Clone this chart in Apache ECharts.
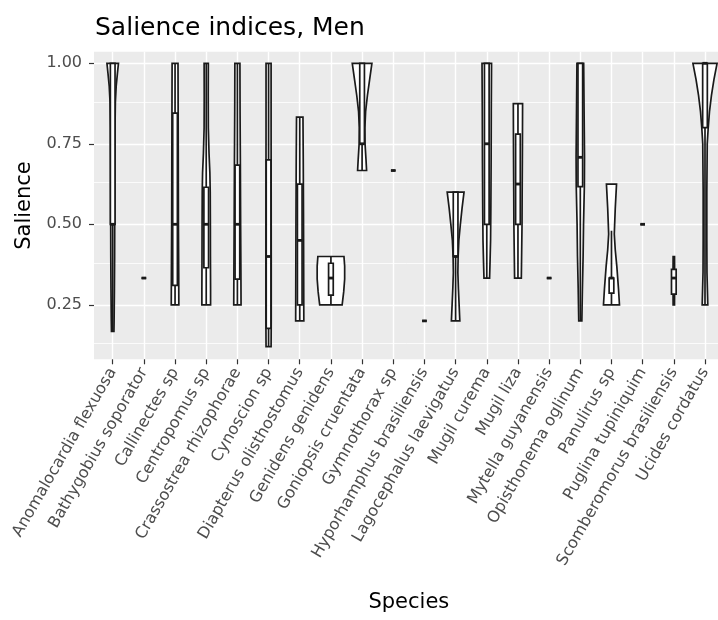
<!DOCTYPE html>
<html>
<head>
<meta charset="utf-8">
<script src="https://cdn.jsdelivr.net/npm/echarts@6/dist/echarts.min.js"></script>
<style>
  html, body { margin: 0; padding: 0; background: #ffffff; }
  #chart { width: 718px; height: 620px; }
</style>
</head>
<body>
<div id="chart"></div>
<script>
// ---------------- data ----------------
const species = [
  'Anomalocardia flexuosa', 'Bathygobius soporator', 'Callinectes sp', 'Centropomus sp',
  'Crassostrea rhizophorae', 'Cynoscion sp', 'Diapterus olisthostomus', 'Genidens genidens',
  'Goniopsis cruentata', 'Gymnothorax sp', 'Hyporhamphus brasiliensis', 'Lagocephalus laevigatus',
  'Mugil curema', 'Mugil liza', 'Mytella guyanensis', 'Opisthonema oglinum',
  'Panulirus sp', 'Puglina tupiniquim', 'Scomberomorus brasiliensis', 'Ucides cordatus'
];

// boxplot statistics (lower whisker, Q1, median, Q3, upper whisker)
const boxMin    = [0.167, 0.333, 0.25, 0.25, 0.25, 0.12, 0.20, 0.25, 0.667, 0.667, 0.20, 0.20, 0.333, 0.333, 0.333, 0.20, 0.25, 0.50, 0.25, 0.25];
const boxQ1     = [0.50, 0.333, 0.31, 0.365, 0.33, 0.177, 0.25, 0.28, 0.75, 0.667, 0.20, 0.40, 0.50, 0.50, 0.333, 0.617, 0.286, 0.50, 0.283, 0.80];
const boxMedian = [0.50, 0.333, 0.50, 0.50, 0.50, 0.40, 0.45, 0.333, 0.75, 0.667, 0.20, 0.40, 0.75, 0.625, 0.333, 0.708, 0.333, 0.50, 0.333, 1.00];
const boxQ3     = [1.00, 0.333, 0.845, 0.615, 0.684, 0.70, 0.625, 0.379, 1.00, 0.667, 0.20, 0.60, 1.00, 0.78, 0.333, 1.00, 0.333, 0.50, 0.36, 1.00];
const boxMax    = [1.00, 0.333, 1.00, 1.00, 1.00, 1.00, 0.833, 0.40, 1.00, 0.667, 0.20, 0.60, 1.00, 0.875, 0.333, 1.00, 0.48, 0.50, 0.40, 1.00];

// violin density profiles: [salience, relative density]
const violinAnomalocardia = [[1.0,0.41],[0.97,0.34],[0.93,0.25],[0.88,0.19],[0.8,0.165],[0.7,0.155],[0.6,0.148],[0.5,0.143],[0.4,0.137],[0.3,0.122],[0.2,0.10],[0.167,0.088]];
const violinBathygobius = [];
const violinCallinectes = [[1.0,0.21],[0.85,0.22],[0.7,0.23],[0.5,0.24],[0.35,0.26],[0.25,0.27]];
const violinCentropomus = [[1.0,0.15],[0.9,0.143],[0.8,0.15],[0.72,0.20],[0.66,0.26],[0.6,0.285],[0.5,0.295],[0.4,0.30],[0.3,0.31],[0.25,0.31]];
const violinCrassostrea = [[1.0,0.18],[0.85,0.19],[0.7,0.21],[0.5,0.23],[0.35,0.25],[0.25,0.26]];
const violinCynoscion = [[1.0,0.18],[0.8,0.18],[0.6,0.185],[0.4,0.19],[0.2,0.19],[0.12,0.18]];
const violinDiapterus = [[0.833,0.23],[0.7,0.25],[0.5,0.27],[0.35,0.28],[0.2,0.29]];
const violinGenidens = [[0.4,0.93],[0.37,0.98],[0.33,0.98],[0.29,0.91],[0.25,0.80]];
const violinGoniopsis = [[1.0,0.70],[0.95,0.54],[0.9,0.38],[0.85,0.25],[0.8,0.20],[0.75,0.21],[0.7,0.28],[0.667,0.32]];
const violinGymnothorax = [];
const violinHyporhamphus = [];
const violinLagocephalus = [[0.6,0.60],[0.55,0.46],[0.5,0.34],[0.45,0.23],[0.4,0.18],[0.35,0.16],[0.3,0.20],[0.25,0.25],[0.2,0.30]];
const violinMugilCurema = [[1.0,0.34],[0.85,0.32],[0.7,0.31],[0.55,0.29],[0.45,0.27],[0.38,0.23],[0.333,0.20]];
const violinMugilLiza = [[0.875,0.33],[0.75,0.32],[0.6,0.30],[0.5,0.29],[0.4,0.26],[0.333,0.24]];
const violinMytella = [];
const violinOpisthonema = [[1.0,0.24],[0.85,0.27],[0.71,0.30],[0.62,0.29],[0.5,0.23],[0.4,0.20],[0.3,0.15],[0.2,0.11]];
const violinPanulirus = [[0.625,0.36],[0.55,0.27],[0.47,0.20],[0.42,0.27],[0.37,0.38],[0.3,0.50],[0.25,0.57]];
const violinPuglina = [];
const violinScomberomorus = [[0.4,0.05],[0.33,0.06],[0.25,0.05]];
const violinUcides = [[1.0,0.86],[0.95,0.64],[0.9,0.46],[0.85,0.32],[0.8,0.23],[0.75,0.16],[0.6,0.13],[0.45,0.13],[0.35,0.14],[0.25,0.20]];

const violins = [
  violinAnomalocardia, violinBathygobius, violinCallinectes, violinCentropomus,
  violinCrassostrea, violinCynoscion, violinDiapterus, violinGenidens,
  violinGoniopsis, violinGymnothorax, violinHyporhamphus, violinLagocephalus,
  violinMugilCurema, violinMugilLiza, violinMytella, violinOpisthonema,
  violinPanulirus, violinPuglina, violinScomberomorus, violinUcides
];

const yMajorTicks = [0.25, 0.5, 0.75, 1.0];
const yMinorTicks = [0.125, 0.375, 0.625, 0.875];

// ---------------- chart ----------------
const VIOLIN_HALF = 0.45;   // violin half width at density 1 (category units)
const BOX_HALF = 0.075;     // box half width (category units)
const INK = '#1a1a1a';
const LW = 1.7;
const FONT = 'DejaVu Sans';

const chart = echarts.init(document.getElementById('chart'), null, { renderer: 'canvas' });

function renderItem(params, api) {
  const i = api.value(0);
  const children = [];
  const prof = violins[i];
  if (prof.length > 1) {
    const left = prof.map(p => api.coord([i - p[1] * VIOLIN_HALF, p[0]]));
    const right = prof.slice().reverse().map(p => api.coord([i + p[1] * VIOLIN_HALF, p[0]]));
    children.push({
      type: 'polygon',
      shape: { points: left.concat(right) },
      style: { fill: '#ffffff', stroke: INK, lineWidth: LW, lineJoin: 'miter' }
    });
  }
  const c = api.coord([i, boxMedian[i]]);
  const pMin = api.coord([i, boxMin[i]]);
  const pMax = api.coord([i, boxMax[i]]);
  const pQ1l = api.coord([i - BOX_HALF, boxQ1[i]]);
  const pQ3r = api.coord([i + BOX_HALF, boxQ3[i]]);
  const pQ1 = api.coord([i, boxQ1[i]]);
  const pQ3 = api.coord([i, boxQ3[i]]);
  const pMedL = api.coord([i - BOX_HALF, boxMedian[i]]);
  const pMedR = api.coord([i + BOX_HALF, boxMedian[i]]);
  if (pMax[1] < pQ3[1]) {
    children.push({ type: 'line', shape: { x1: c[0], y1: pQ3[1], x2: c[0], y2: pMax[1] }, style: { stroke: INK, lineWidth: LW } });
  }
  if (pMin[1] > pQ1[1]) {
    children.push({ type: 'line', shape: { x1: c[0], y1: pQ1[1], x2: c[0], y2: pMin[1] }, style: { stroke: INK, lineWidth: LW } });
  }
  children.push({
    type: 'rect',
    shape: { x: pQ1l[0], y: pQ3r[1], width: pQ3r[0] - pQ1l[0], height: pQ1l[1] - pQ3r[1] },
    style: { fill: '#ffffff', stroke: INK, lineWidth: LW }
  });
  children.push({
    type: 'line',
    shape: { x1: pMedL[0], y1: pMedL[1], x2: pMedR[0], y2: pMedR[1] },
    style: { stroke: INK, lineWidth: 2.8 }
  });
  return { type: 'group', children };
}

const option = {
  backgroundColor: '#ffffff',
  animation: false,
  title: {
    text: 'Salience indices, Men',
    left: 90,
    top: 11,
    textStyle: { fontFamily: FONT, fontSize: 25, fontWeight: 'normal', color: '#000000' }
  },
  grid: {
    left: 94,
    top: 51.7,
    width: 629.7,
    height: 307.6,
    show: true,
    backgroundColor: '#EBEBEB',
    borderWidth: 0,
    containLabel: false,
    outerBoundsMode: 'none'
  },
  xAxis: {
    type: 'value',
    min: -0.6,
    max: 19.6,
    name: 'Species',
    nameLocation: 'middle',
    nameGap: 233,
    nameTextStyle: { fontFamily: FONT, fontSize: 21, color: '#000000' },
    axisLine: { show: false, onZero: false },
    axisTick: { show: true, length: 5, lineStyle: { color: '#333333', width: 1.2 }, customValues: species.map((s, i) => i) },
    axisLabel: {
      customValues: species.map((s, i) => i),
      formatter: v => species[Math.round(v)],
      rotate: 60,
      margin: 10,
      fontFamily: FONT,
      fontSize: 16,
      color: '#4D4D4D'
    },
    splitLine: { show: true, lineStyle: { color: '#ffffff', width: 1.4 } }
  },
  yAxis: {
    type: 'value',
    min: 0.0807,
    max: 1.036,
    name: 'Salience',
    nameLocation: 'middle',
    nameGap: 58,
    nameTextStyle: { fontFamily: FONT, fontSize: 21, color: '#000000' },
    axisLine: { show: false, onZero: false },
    axisTick: { show: true, length: 5, lineStyle: { color: '#333333', width: 1.2 }, customValues: yMajorTicks },
    axisLabel: {
      customValues: yMajorTicks,
      formatter: v => v.toFixed(2),
      margin: 12,
      fontFamily: FONT,
      fontSize: 16,
      color: '#4D4D4D'
    },
    splitLine: { show: true, lineStyle: { color: '#ffffff', width: 1.4 } }
  },
  series: [
    {
      type: 'line',
      data: [],
      z: 1,
      silent: true,
      markLine: {
        silent: true,
        symbol: ['none', 'none'],
        label: { show: false },
        animation: false,
        lineStyle: { color: '#ffffff', width: 0.8, type: 'solid' },
        data: yMinorTicks.map(v => ({ yAxis: v }))
      }
    },
    {
      type: 'custom',
      renderItem: renderItem,
      encode: { x: 0, y: 1 },
      data: species.map((s, i) => [i, boxMedian[i]]),
      clip: false,
      z: 10
    }
  ]
};

chart.setOption(option);
</script>
</body>
</html>
